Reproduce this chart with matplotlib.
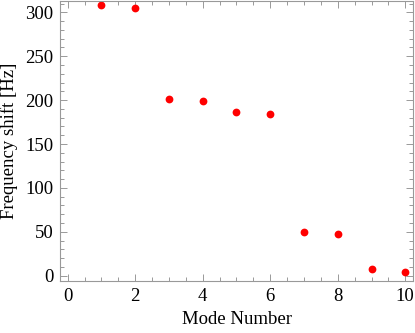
import matplotlib
matplotlib.use("Agg")
import matplotlib.pyplot as plt
from matplotlib.ticker import MultipleLocator

mode = [1, 2, 3, 4, 5, 6, 7, 8, 9, 10]
shift = [308.5, 305.5, 200.8, 198.9, 186.0, 183.7, 50.1, 47.5, 7.6, 4.2]
xticks = [0, 2, 4, 6, 8, 10]
yticks = [0, 50, 100, 150, 200, 250, 300]

plt.rcParams['font.family'] = ['Liberation Serif', 'DejaVu Serif']

fig = plt.figure(figsize=(4.15, 3.33), dpi=100)
ax = fig.add_axes([60.3/415, 52/333, (412.7-60.3)/415, (281-0.5)/333])

ax.plot(mode, shift, 'o', color='#ff0000', markersize=5.6, markeredgewidth=0, clip_on=False)

ax.set_xlim(-0.219, 10.22)
ax.set_ylim(-6.0, 313.5)
ax.set_xticks(xticks)
ax.set_yticks(yticks)
ax.xaxis.set_minor_locator(MultipleLocator(0.5))
ax.yaxis.set_minor_locator(MultipleLocator(10))

gray = '#999999'
for s in ax.spines.values():
    s.set_color(gray)
    s.set_linewidth(0.8)
ax.tick_params(which='both', direction='in', top=True, right=True, color=gray, width=0.7,
               labelsize=13.5, labelcolor='black')
ax.tick_params(which='major', length=5, pad=5)
ax.tick_params(which='minor', length=3)

ax.set_xlabel('Mode Number', fontsize=13.5, labelpad=4)
ax.set_ylabel('Frequency shift [Hz]', fontsize=13.5, labelpad=5)

fig.savefig('out.png', dpi=100)
